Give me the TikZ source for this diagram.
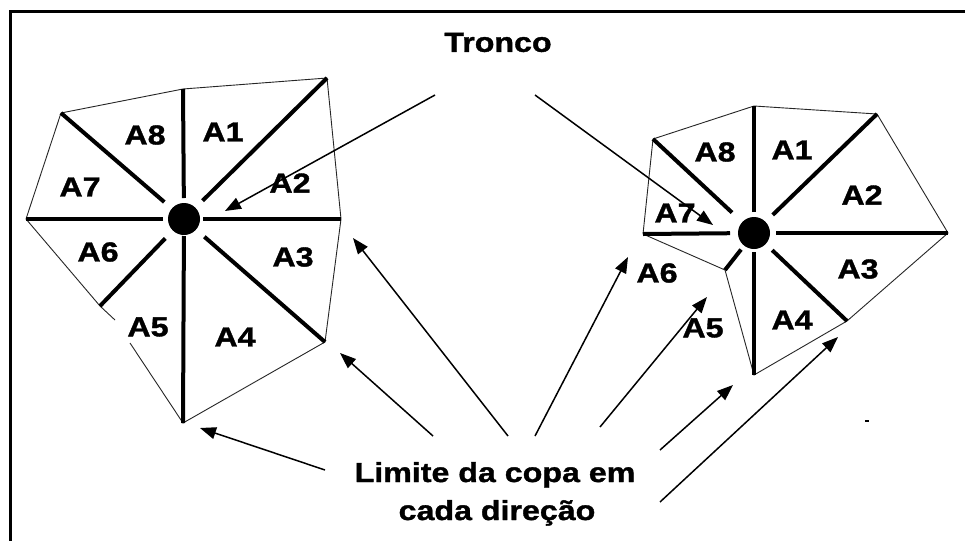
\documentclass[tikz,border=0pt]{standalone}
\usepackage{fontspec}
\newfontfamily\lblfont{Liberation Sans}[FakeStretch=1.17,FakeBold=1.3]
\usetikzlibrary{arrows.meta}
\begin{document}
\begin{tikzpicture}[x=1pt,y=-1pt,
  spoke/.style={line width=4pt},
  rim/.style={line width=0.9pt, black!85},
  arr/.style={line width=1.5pt,-{Triangle[length=16pt,width=12pt]}},
  lbl/.style={inner sep=0pt, font=\lblfont\bfseries\fontsize{27.5}{33}\selectfont},
]
\useasboundingbox (0,0) rectangle (965,541);
\fill[white] (0,0) rectangle (965,541);
\draw[line width=3pt] (965,11.5) -- (10,11.5) -- (10,541);

% left tree
\coordinate (Lc) at (184,219);
\coordinate (Ln) at (183,89);
\coordinate (Lne) at (327,78);
\coordinate (Le) at (341,219);
\coordinate (Lse) at (325,342);
\coordinate (Ls) at (183,423);
\coordinate (Lsw) at (100,306);
\coordinate (Lw) at (26,219);
\coordinate (Lnw) at (61,113);
\coordinate (Lg1) at (130,343);
\coordinate (Lg2) at (115,320);
\draw[rim] (Lsw) -- (Lw) -- (Lnw) -- (Ln) -- (Lne) -- (Le) -- (Lse) -- (Ls) -- (Lg1);
\draw[rim] (Lg2) -- (Lsw);
\foreach \t/\s in {Ln/21pt, Lne/26pt, Le/19pt, Lse/27pt, Ls/17pt, Lsw/27pt, Lw/21pt, Lnw/26pt}
  \draw[spoke, shorten <=\s] (Lc) -- (\t);
\fill (Lc) circle (16);

\node[lbl] (la8) at (145,135) {A8};
\node[lbl] (la1) at (223,132) {A1};
\node[lbl] (la7) at (80,187) {A7};
\node[lbl] (la2) at (290,183) {A2};
\node[lbl] (la6) at (98,252) {A6};
\node[lbl] (la3) at (293,257) {A3};
\node[lbl] (la5) at (148,327) {A5};
\node[lbl] (la4) at (235,337) {A4};

% right tree
\coordinate (Rc) at (754,233);
\coordinate (Rn) at (754,106);
\coordinate (Rne) at (877,114);
\coordinate (Re) at (948,233);
\coordinate (Rse) at (847,321);
\coordinate (Rs) at (754,375);
\coordinate (Rsw) at (725,270);
\coordinate (Rw) at (643,234);
\coordinate (Rnw) at (653,139);
\draw[rim] (Rnw) -- (Rn) -- (Rne) -- (Re) -- (Rse) -- (Rs) -- (Rsw) -- (Rw) -- cycle;
\foreach \t/\s in {Rn/21pt, Rne/26pt, Re/22pt, Rse/25pt, Rs/19pt, Rsw/21pt, Rw/24pt, Rnw/30pt}
  \draw[spoke, shorten <=\s] (Rc) -- (\t);
\fill (Rc) circle (16);

\node[lbl] (ra8) at (715,152) {A8};
\node[lbl] (ra1) at (792,150) {A1};
\node[lbl] (ra2) at (862,195) {A2};
\node[lbl] (ra7) at (675,213) {A7};
\node[lbl] (ra6) at (657,273) {A6};
\node[lbl] (ra3) at (858,269) {A3};
\node[lbl] (ra5) at (703,328) {A5};
\node[lbl] (ra4) at (792,320) {A4};

% texts
\node[lbl] (tronco) at (498,42.5) {Tronco};
\node[lbl, anchor=base] (lim1) at (495,482) {Limite da copa em};
\node[lbl, anchor=base] (lim2) at (497,520) {cada direção};

% arrow end points
\coordinate (t1s) at (435,95);  \coordinate (t1e) at (225,211);
\coordinate (t2s) at (535,95);  \coordinate (t2e) at (713,225);
\coordinate (l1s) at (325,470); \coordinate (l1e) at (200,428);
\coordinate (l2s) at (433,436); \coordinate (l2e) at (340,353);
\coordinate (l3s) at (508,436); \coordinate (l3e) at (353,238);
\coordinate (l4s) at (535,436); \coordinate (l4e) at (628,257);
\coordinate (l5s) at (600,427); \coordinate (l5e) at (707,297);
\coordinate (l6s) at (660,450); \coordinate (l6e) at (733,385);
\coordinate (l7s) at (660,502); \coordinate (l7e) at (838,337);
\foreach \a in {t1,t2,l1,l2,l3,l4,l5,l6,l7}
  \draw[arr] (\a s) -- (\a e);

% stray dash
\coordinate (d1) at (865,421); \coordinate (d2) at (869,421);
\draw[line width=1.5pt] (d1) -- (d2);
\end{tikzpicture}
\end{document}
